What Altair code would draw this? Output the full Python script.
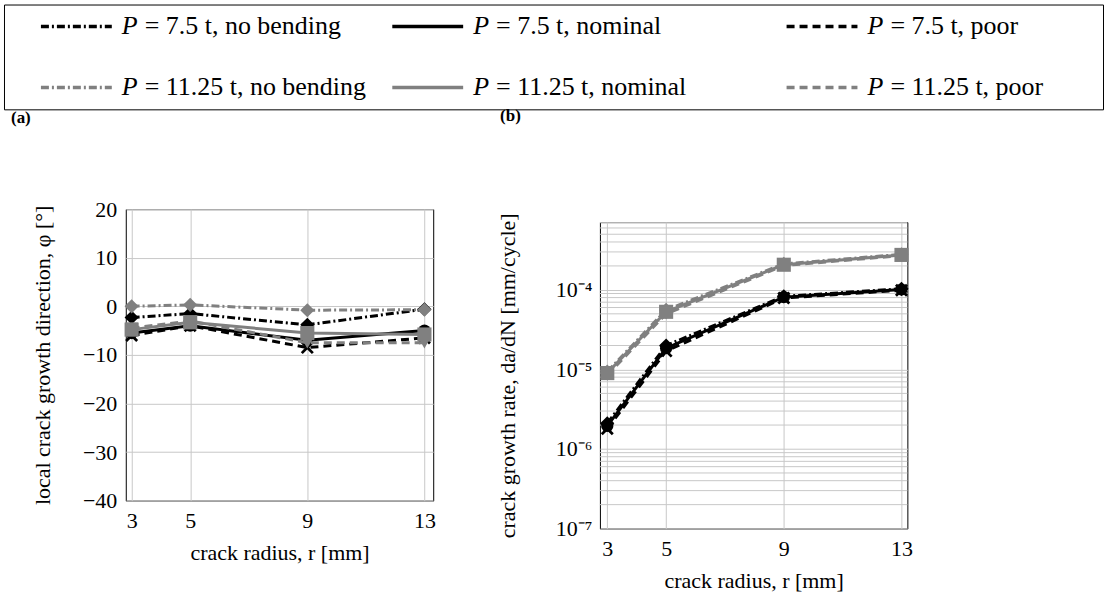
import altair as alt
import pandas as pd

FONT = "Liberation Serif"

# ---------------- data ----------------
RADIUS = [3, 5, 9, 13]
LOADS = ["7.5", "7.5", "7.5", "11.25", "11.25", "11.25"]
CASES = ["no bending", "nominal", "poor", "no bending", "nominal", "poor"]

# panel (a): local crack growth direction phi [deg]
PHI_75_NOBEND = [-2.3, -1.5, -3.8, -0.6]
PHI_75_NOMINAL = [-5.5, -4.0, -7.0, -5.0]
PHI_75_POOR = [-6.0, -4.0, -8.5, -6.5]
PHI_1125_NOBEND = [0.0, 0.3, -0.8, -0.7]
PHI_1125_NOMINAL = [-4.8, -3.3, -5.5, -5.8]
PHI_1125_POOR = [-4.5, -3.0, -7.5, -7.5]

# panel (b): crack growth rate da/dN [mm/cycle]
RATE_75_NOBEND = [2.1e-6, 2.0e-5, 8.3e-5, 1.03e-4]
RATE_75_NOMINAL = [1.95e-6, 1.85e-5, 8.1e-5, 1.01e-4]
RATE_75_POOR = [1.8e-6, 1.7e-5, 7.9e-5, 0.99e-4]
RATE_1125_NOBEND = [9.4e-6, 5.6e-5, 2.12e-4, 2.8e-4]
RATE_1125_NOMINAL = [9.0e-6, 5.3e-5, 2.07e-4, 2.75e-4]
RATE_1125_POOR = [8.5e-6, 5.0e-5, 2.02e-4, 2.7e-4]

PHI_TICKS = [-40, -30, -20, -10, 0, 10, 20]
RATE_TICKS = [1e-7, 1e-6, 1e-5, 1e-4]
RATE_MINOR_MULT = [2, 3, 4, 5, 6, 7, 8, 9]

PHI_SERIES = [PHI_75_NOBEND, PHI_75_NOMINAL, PHI_75_POOR,
              PHI_1125_NOBEND, PHI_1125_NOMINAL, PHI_1125_POOR]
RATE_SERIES = [RATE_75_NOBEND, RATE_75_NOMINAL, RATE_75_POOR,
               RATE_1125_NOBEND, RATE_1125_NOMINAL, RATE_1125_POOR]

# ---------------- styles ----------------
COLORS = ["#000000", "#000000", "#000000", "#808080", "#808080", "#808080"]
DASHES = [[8, 3, 2, 3], None, [8, 5], [8, 3, 2, 3], None, [8, 5]]
XPATH = ("M-1,-0.7L-0.7,-1L0,-0.3L0.7,-1L1,-0.7L0.3,0L1,0.7L0.7,1"
         "L0,0.3L-0.7,1L-1,0.7L-0.3,0Z")
SHAPES = ["diamond", "circle", XPATH, "diamond", "square", "triangle-down"]
MSIZE = [200, 150, 170, 200, 200, 170]
GRID = "#c8c8c8"

RATE_MAX = 7.1e-4
RATE_MIN = 1e-7


def x_axis():
    return alt.Axis(values=RADIUS, title="crack radius, r [mm]", grid=True,
                    gridColor=GRID, gridWidth=1, ticks=False, domain=False,
                    labelFont=FONT, labelFontSize=22, labelColor="black",
                    labelPadding=10, labelFlush=False, labelOverlap=False,
                    titleFont=FONT, titleFontSize=22, titleFontWeight="normal",
                    titleColor="black", titlePadding=11)


def y_axis(values, title, title_pad, label_pad, label_expr=None):
    kw = dict(values=values, title=title, grid=True, gridColor=GRID, gridWidth=1,
              ticks=False, domain=False, labelFont=FONT, labelFontSize=22,
              labelColor="black", labelPadding=label_pad, labelFlush=False,
              labelOverlap=False, titleFont=FONT, titleFontSize=22,
              titleFontWeight="normal", titleColor="black", titlePadding=title_pad)
    if label_expr is not None:
        kw["labelExpr"] = label_expr
    return alt.Axis(**kw)


def panel(series, xscale, yscale, yaxis, w, h, title=None, extra=None):
    layers = []
    if extra is not None:
        layers.append(extra)
    xa = x_axis()
    for i, vals in enumerate(series):
        df = pd.DataFrame({"r": RADIUS, "v": vals})
        enc = dict(x=alt.X("r:Q", scale=xscale, axis=xa),
                   y=alt.Y("v:Q", scale=yscale, axis=yaxis))
        lk = dict(color=COLORS[i], strokeWidth=3)
        if DASHES[i] is not None:
            lk["strokeDash"] = DASHES[i]
        layers.append(alt.Chart(df).mark_line(**lk).encode(**enc))
        layers.append(alt.Chart(df).mark_point(shape=SHAPES[i], filled=True,
                                               color=COLORS[i], size=MSIZE[i],
                                               opacity=1).encode(**enc))
    props = dict(width=w, height=h)
    if title is not None:
        props["title"] = title
    return alt.layer(*layers).properties(**props)


one = pd.DataFrame({"k": [0]})


def spacer(w, h, title=None):
    c = alt.Chart(one).mark_point(size=1, opacity=0).encode(
        x=alt.value(0), y=alt.value(0))
    props = dict(width=w, height=h, view=alt.ViewBackground(strokeOpacity=0))
    if title is not None:
        props["title"] = title
    return c.properties(**props)


# ---------------- panel (a) ----------------
title_a = alt.TitleParams("(a)", anchor="start", frame="group", dx=-115, offset=71,
                          font=FONT, fontSize=17, fontWeight="bold", color="black")
panel_a = panel(
    PHI_SERIES,
    alt.Scale(domain=[2.8, 13.3], nice=False, zero=False),
    alt.Scale(domain=[-40, 20], nice=False, zero=False),
    y_axis(PHI_TICKS, "local crack growth direction, φ [°]", 28, 9),
    308, 292, title=title_a)

# ---------------- panel (b) ----------------
label_expr = ("'10' + (datum.value < 5e-7 ? '⁻⁷' : datum.value < 5e-6 ? '⁻⁶' : "
              "datum.value < 5e-5 ? '⁻⁵' : '⁻⁴')")
rate_scale = alt.Scale(type="log", domain=[RATE_MIN, RATE_MAX], nice=False)
rate_axis = y_axis(RATE_TICKS, "crack growth rate, da/dN [mm/cycle]", 36, 8, label_expr)
minor = [m * t for t in RATE_TICKS for m in RATE_MINOR_MULT if m * t <= RATE_MAX]
minor_layer = alt.Chart(pd.DataFrame({"v": minor})).mark_rule(
    color=GRID, strokeWidth=1).encode(y=alt.Y("v:Q", scale=rate_scale, axis=rate_axis))
panel_b = panel(
    RATE_SERIES,
    alt.Scale(domain=[2.75, 13.2], nice=False, zero=False),
    rate_scale, rate_axis, 308, 307, extra=minor_layer)

title_b = alt.TitleParams("(b)", anchor="start", frame="group", dx=-100, offset=84,
                          font=FONT, fontSize=17, fontWeight="bold", color="black")
col_b = alt.vconcat(spacer(1, 1, title=title_b), panel_b, spacing=2)

# ---------------- legend ----------------
LEG_COL_X = [37, 389, 784]
LEG_ROW_Y = [22, 83]
LEG_LINE_LEN = 71
LEG_TEXT_GAP = 81
leg_layers = []
for i in range(6):
    c, r = i % 3, i // 3
    x0, y0 = LEG_COL_X[c], LEG_ROW_Y[r]
    rk = dict(color=COLORS[i], strokeWidth=3.5)
    if DASHES[i] is not None:
        rk["strokeDash"] = DASHES[i]
    leg_layers.append(alt.Chart(one).mark_rule(**rk).encode(
        x=alt.value(x0), x2=alt.value(x0 + LEG_LINE_LEN), y=alt.value(y0)))
    leg_layers.append(alt.Chart(one).mark_text(
        text="P", font=FONT, fontSize=26, fontStyle="italic", align="left",
        baseline="middle", color="black").encode(
        x=alt.value(x0 + LEG_TEXT_GAP), y=alt.value(y0)))
    leg_layers.append(alt.Chart(one).mark_text(
        text=f"= {LOADS[i]} t, {CASES[i]}", font=FONT, fontSize=26, align="left",
        baseline="middle", color="black").encode(
        x=alt.value(x0 + LEG_TEXT_GAP + 23), y=alt.value(y0)))
legend = alt.layer(*leg_layers).properties(width=1101, height=105)

row = alt.hconcat(spacer(1, 1), alt.hconcat(panel_a, col_b, spacing=59), spacing=5)

chart = alt.vconcat(legend, row, spacing=-4).properties(
    padding={"left": 3, "top": 3, "right": 3, "bottom": 3}
).configure_view(stroke="black", strokeWidth=1)

chart.save("out.html", embed_options={"renderer": "svg", "actions": False})
